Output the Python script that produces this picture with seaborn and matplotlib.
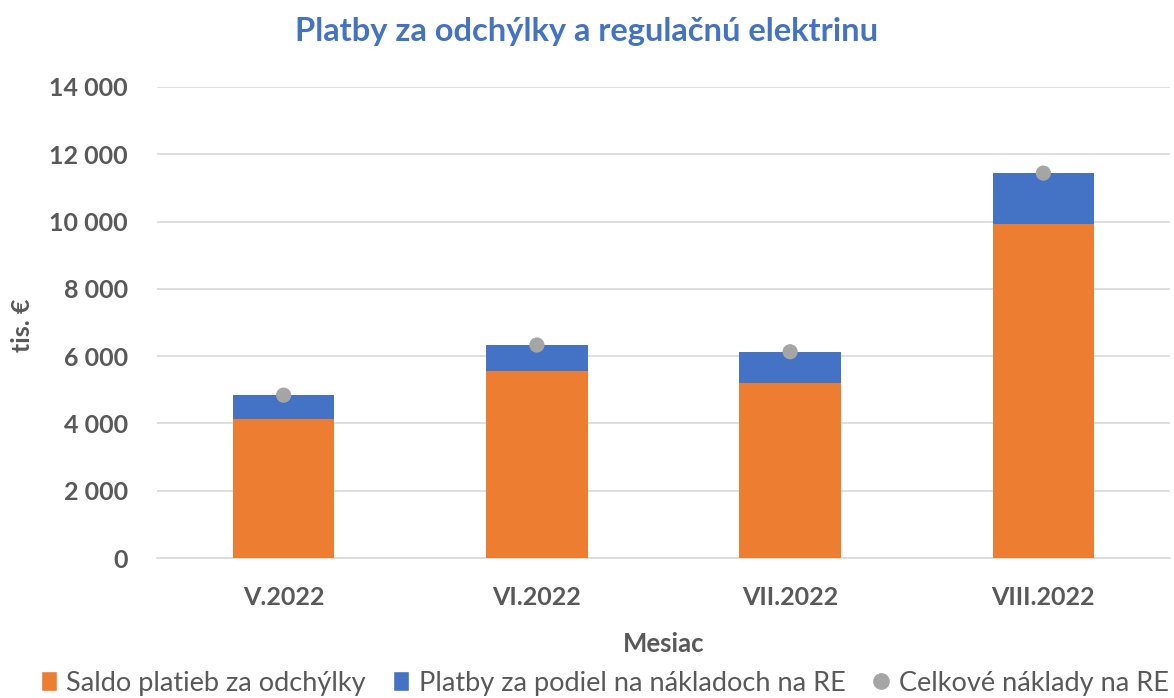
import numpy as np
import pandas as pd
import seaborn as sns
import matplotlib.pyplot as plt
from matplotlib.lines import Line2D
from matplotlib.patches import Patch
from matplotlib.ticker import FuncFormatter

months = ["V.2022", "VI.2022", "VII.2022", "VIII.2022"]
saldo = [4120, 5550, 5210, 9920]          # Saldo platieb za odchýlky
podiel = [720, 780, 920, 1520]            # Platby za podiel na nákladoch na RE
celkove = [4840, 6330, 6130, 11440]       # Celkové náklady na RE

orange = "#ED7D31"
blue = "#4472C4"
gray = "#A5A5A5"
txt = "#595959"

sns.set_theme(style="white")
plt.rcParams["font.family"] = ["Lato", "DejaVu Sans"]

df = pd.DataFrame({"mesiac": months, "saldo": saldo, "podiel": podiel, "celkove": celkove})
df["top"] = df["saldo"] + df["podiel"]

fig = plt.figure(figsize=(11.74, 6.98), dpi=100)
ax = fig.add_axes([157 / 1174, 1 - 558 / 698, 1013 / 1174, 471 / 698])

sns.barplot(data=df, x="mesiac", y="top", color=blue, width=0.4, saturation=1,
            linewidth=0, ax=ax, zorder=2)
sns.barplot(data=df, x="mesiac", y="saldo", color=orange, width=0.4, saturation=1,
            linewidth=0, ax=ax, zorder=3)
sns.scatterplot(data=df, x="mesiac", y="celkove", color=gray, s=120, edgecolor="none", ax=ax, zorder=4)

ax.set_xlim(-0.5, 3.5)
ax.set_ylim(0, 14000)
ax.set_yticks(np.arange(0, 14001, 2000))
ax.yaxis.set_major_formatter(FuncFormatter(lambda v, p: f"{int(v):,}".replace(",", " ")))
ax.grid(axis="y", color="#D9D9D9", linewidth=1.2, zorder=0)
ax.set_axisbelow(True)
for s in ["top", "right", "left"]:
    ax.spines[s].set_visible(False)
ax.spines["bottom"].set_color("#D9D9D9")
ax.spines["bottom"].set_linewidth(1.2)
ax.tick_params(axis="both", length=0, labelsize=18, labelcolor=txt)
ax.tick_params(axis="y", pad=21)
ax.tick_params(axis="x", pad=20)
for lab in ax.get_xticklabels() + ax.get_yticklabels():
    lab.set_fontweight("bold")

ax.set_xlabel("Mesiac", fontsize=18.5, fontweight="bold", color=txt)
ax.xaxis.set_label_coords(0.5, -(632 - 558) / 471, transform=ax.transAxes)
ax.set_ylabel("tis. €", fontsize=18, fontweight="bold", color=txt)
ax.yaxis.set_label_coords(-(157 - 34) / 1013, (558 - 325) / 471, transform=ax.transAxes)

fig.text(0.5, 1 - 31 / 698, "Platby za odchýlky a regulačnú elektrinu", ha="center", va="center",
         fontsize=23.5, fontweight="bold", color=blue)

handles = [
    Patch(facecolor=orange, label="Saldo platieb za odchýlky"),
    Patch(facecolor=blue, label="Platby za podiel na nákladoch na RE"),
    Line2D([], [], marker="o", linestyle="none", color=gray, markersize=11, label="Celkové náklady na RE"),
]
leg = fig.legend(handles=handles, loc="center", bbox_to_anchor=(0.515, 1 - 683 / 698), ncol=3,
                 frameon=False, fontsize=19.5, handlelength=0.6, handleheight=0.8,
                 handletextpad=0.35, columnspacing=1.0)
for t in leg.get_texts():
    t.set_color(txt)

fig.savefig("out.png", dpi=100)
